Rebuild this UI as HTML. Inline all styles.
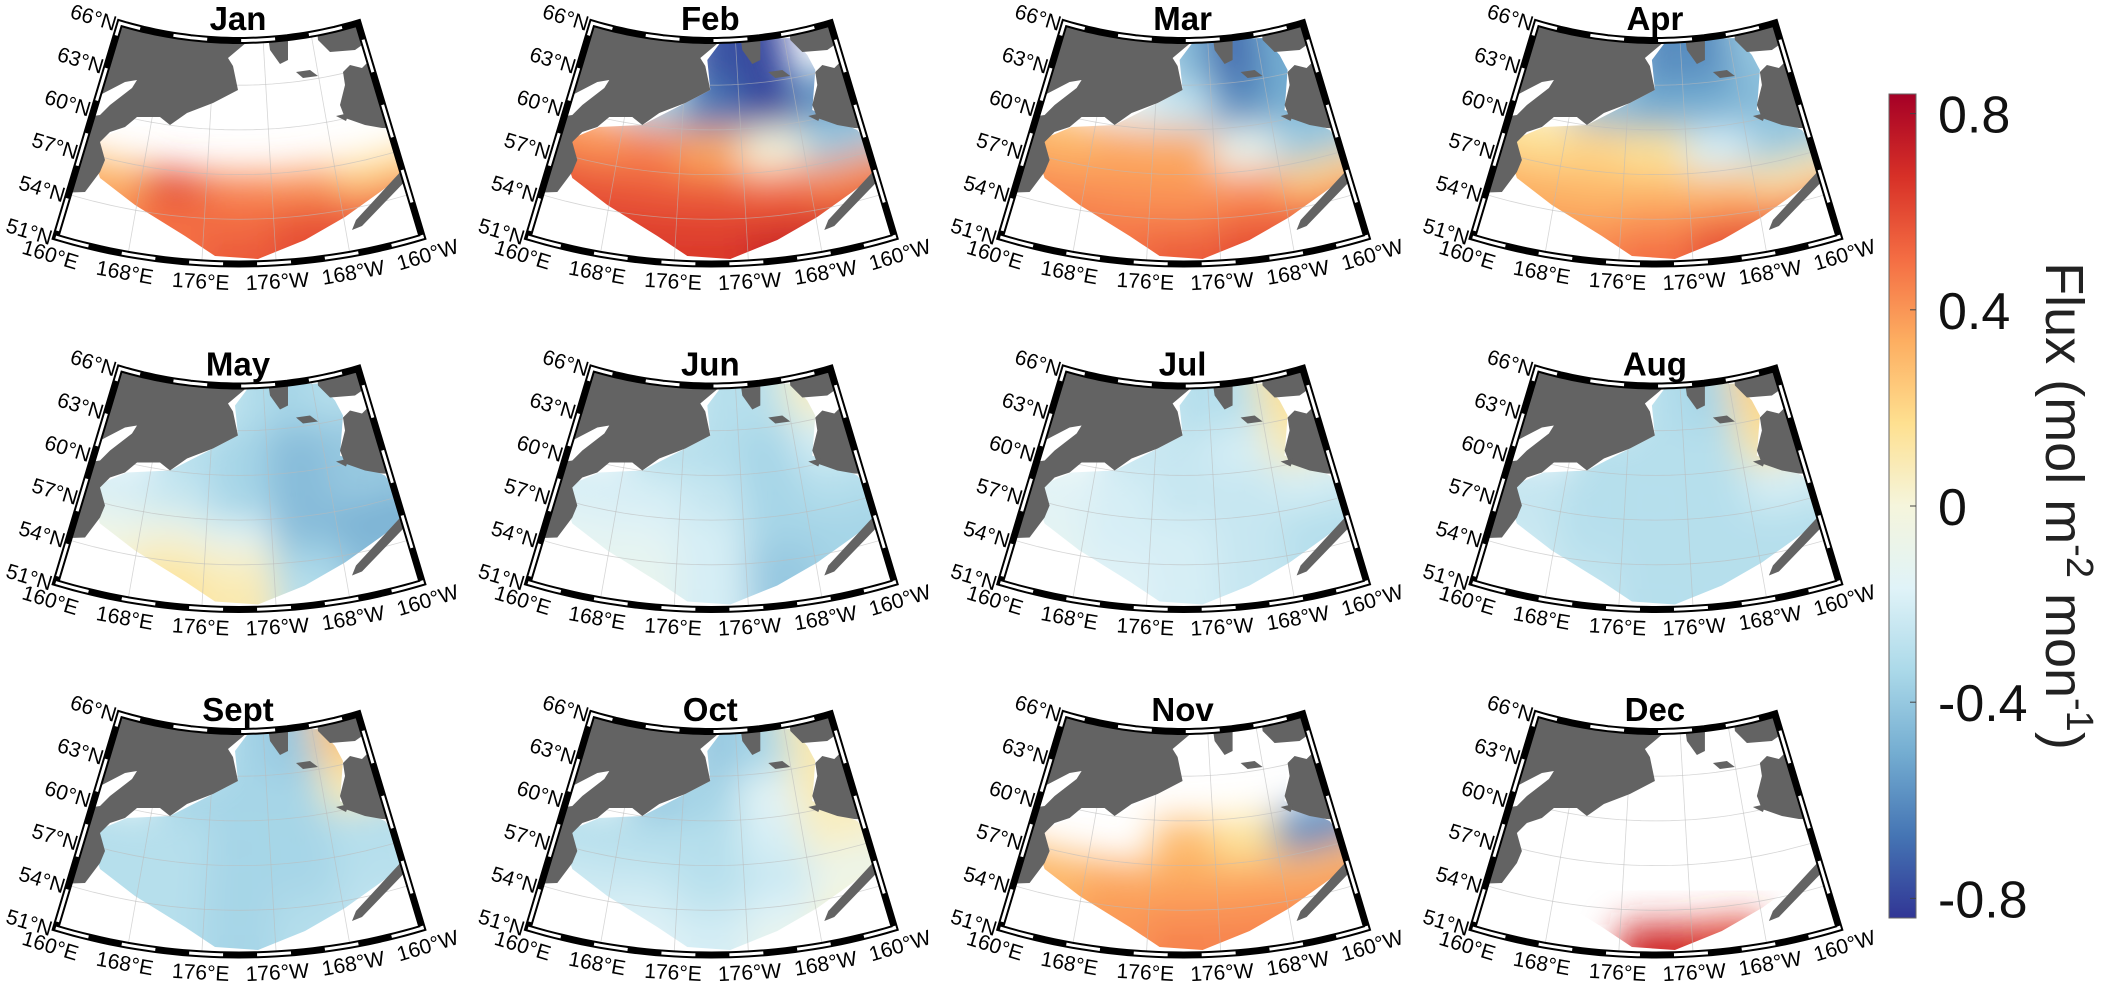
<!DOCTYPE html>
<html><head><meta charset="utf-8"><style>
html,body{margin:0;padding:0;background:#fff;}
svg{display:block;font-family:"Liberation Sans",sans-serif;}
</style></head><body>
<svg id="fig" width="2108" height="981" viewBox="0 0 2108 981">
<defs>
<linearGradient id="cbgrad" x1="0" y1="1" x2="0" y2="0">
<stop offset="0" stop-color="#313695"/><stop offset="0.1" stop-color="#4575b4"/><stop offset="0.2" stop-color="#74add1"/><stop offset="0.3" stop-color="#abd9e9"/><stop offset="0.4" stop-color="#e0f3f8"/><stop offset="0.5" stop-color="#f5f5dc"/><stop offset="0.6" stop-color="#fee090"/><stop offset="0.7" stop-color="#fdae61"/><stop offset="0.8" stop-color="#f46d43"/><stop offset="0.9" stop-color="#d73027"/><stop offset="1" stop-color="#a50026"/>
</linearGradient>
<filter id="blur" x="-30%" y="-30%" width="160%" height="160%"><feGaussianBlur stdDeviation="18"/></filter>
</defs>
<g id="panels"></g>
<g>
<rect x="1889" y="94" width="27" height="824" fill="url(#cbgrad)" stroke="#666" stroke-width="1"/>
<g id="cbticks"></g>
<text transform="translate(2046,506) rotate(90)" text-anchor="middle" font-size="54" fill="#222">Flux (mol m<tspan baseline-shift="super" font-size="38">-2</tspan> mon<tspan baseline-shift="super" font-size="38">-1</tspan>)</text>
</g>
</svg>
<script>
const NS='http://www.w3.org/2000/svg';
const months=['Jan','Feb','Mar','Apr','May','Jun','Jul','Aug','Sept','Oct','Nov','Dec'];
const lonEdges=[160,168,176,184,192,200];
const latEdges=[66,63,60,57,55,53,51];
const latTicks=[51,54,57,60,63,66];
const lonTicks=[160,168,176,184,192,200];
const lonTickLabels=['160°E','168°E','176°E','176°W','168°W','160°W'];
const cbTicks=[0.8,0.4,0,-0.4,-0.8];
const cbTickLabels=['0.8','0.4','0','-0.4','-0.8'];
const n=null;
// rows north->south: 63-66, 60-63, 57-60, 55-57, 53-55, 51-53 ; cols lon 160-168..192-200
const fluxJan=[[n,n,n,n,n],[n,n,n,n,n],[n,n,n,n,n],[0.3,0.6,0.45,0.4,0.2],[0.4,0.5,0.5,0.55,0.5],[0.45,0.5,0.55,0.6,0.6]];
const fluxFeb=[[n,n,-0.75,-0.8,n],[n,-0.35,-0.65,-0.8,-0.6],[0.4,0.45,0.35,0.0,-0.4],[0.55,0.55,0.55,0.5,0.4],[0.6,0.6,0.6,0.6,0.55],[0.6,0.65,0.65,0.72,0.75]];
const fluxMar=[[n,n,-0.45,-0.7,-0.5],[n,-0.15,-0.25,-0.6,-0.5],[0.3,0.35,0.35,-0.1,-0.4],[0.4,0.4,0.4,0.4,0.2],[0.45,0.45,0.45,0.5,0.45],[0.5,0.5,0.55,0.6,0.65]];
const fluxApr=[[n,n,-0.6,-0.6,-0.4],[n,-0.45,-0.5,-0.5,-0.45],[0.15,0.2,0.15,-0.2,-0.4],[0.3,0.3,0.3,0.25,0.1],[0.35,0.35,0.4,0.45,0.4],[0.4,0.45,0.5,0.6,0.65]];
const fluxMay=[[n,n,-0.3,-0.35,-0.3],[n,-0.3,-0.35,-0.45,-0.4],[-0.2,-0.25,-0.35,-0.45,-0.4],[-0.1,-0.05,-0.15,-0.45,-0.5],[0.0,0.1,0.05,-0.35,-0.45],[0.05,0.15,0.1,-0.3,-0.45]];
const fluxJun=[[n,n,-0.3,-0.3,0.05],[n,-0.3,-0.3,-0.35,-0.2],[-0.2,-0.2,-0.25,-0.35,-0.3],[-0.15,-0.15,-0.2,-0.35,-0.35],[-0.12,-0.12,-0.2,-0.4,-0.35],[-0.1,-0.1,-0.2,-0.4,-0.35]];
const fluxJul=[[n,n,-0.3,-0.3,0.15],[n,-0.25,-0.25,-0.2,0.1],[-0.15,-0.2,-0.25,-0.25,-0.2],[-0.15,-0.2,-0.2,-0.25,-0.3],[-0.12,-0.18,-0.2,-0.25,-0.3],[-0.1,-0.15,-0.2,-0.25,-0.3]];
const fluxAug=[[n,n,-0.3,-0.35,0.2],[n,-0.3,-0.3,-0.3,0.15],[-0.25,-0.3,-0.3,-0.3,-0.2],[-0.25,-0.3,-0.3,-0.3,-0.3],[-0.22,-0.28,-0.3,-0.3,-0.3],[-0.2,-0.25,-0.3,-0.3,-0.3]];
const fluxSep=[[n,n,-0.35,-0.4,0.25],[n,-0.35,-0.35,-0.35,0.1],[-0.3,-0.3,-0.35,-0.35,-0.3],[-0.3,-0.3,-0.35,-0.35,-0.3],[-0.3,-0.3,-0.35,-0.32,-0.28],[-0.3,-0.3,-0.35,-0.3,-0.25]];
const fluxOct=[[n,n,-0.4,-0.35,0.1],[n,-0.4,-0.35,-0.15,0.1],[-0.3,-0.3,-0.3,-0.2,0.05],[-0.25,-0.25,-0.3,-0.25,-0.1],[-0.22,-0.2,-0.25,-0.18,-0.02],[-0.2,-0.15,-0.2,-0.1,0.05]];
const fluxNov=[[n,n,n,n,n],[n,n,n,n,n],[n,n,0.3,0.15,-0.6],[0.3,0.35,0.35,0.35,0.3],[0.32,0.38,0.4,0.4,0.4],[0.35,0.4,0.45,0.45,0.45]];
const fluxDec=[[n,n,n,n,n],[n,n,n,n,n],[n,n,n,n,n],[n,n,n,n,n],[n,n,n,n,n],[n,n,0.7,0.65,n]];
const fluxAll=[fluxJan,fluxFeb,fluxMar,fluxApr,fluxMay,fluxJun,fluxJul,fluxAug,fluxSep,fluxOct,fluxNov,fluxDec];

const stops=['#313695','#4575b4','#74add1','#abd9e9','#e0f3f8','#f5f5dc','#fee090','#fdae61','#f46d43','#d73027','#a50026'];
function hex(h){return [1,3,5].map(i=>parseInt(h.substr(i,2),16));}
function cmap(v){let t=(v+0.84)/1.68;t=Math.max(0,Math.min(1,t));const p=t*10;const i=Math.min(9,Math.floor(p));const f=p-i;const a=hex(stops[i]),b=hex(stops[i+1]);return 'rgb('+a.map((c,k)=>Math.round(c+(b[k]-c)*f)).join(',')+')';}
const AX=239,AY=-374;
function rad(lat){return 638-(lat-51)*14.9;}
function ang(lon){return (lon-180)*0.835*Math.PI/180;}
function proj(lon,lat){const r=rad(lat),a=ang(lon);return [AX+r*Math.sin(a),AY+r*Math.cos(a)];}
function arcPts(lat,l0,l1,step){const p=[];for(let l=l0;(step>0?l<=l1+1e-9:l>=l1-1e-9);l+=step)p.push(proj(l,lat));return p;}
function pts(a){return a.map(p=>p[0].toFixed(1)+','+p[1].toFixed(1)).join(' ');}
function cellPath(lo0,lo1,la0,la1){return pts(arcPts(la0,lo0,lo1,1).concat(arcPts(la1,lo1,lo0,-1)));}
const framePts=arcPts(51,160,200,1).concat(arcPts(66,200,160,-1));
const dataRegion='96,140 127,127 170,125 213,103 238,90 235,60 250,40 320,38 335,55 343,70 340,110 385,130 400,150 412,168 380,192 345,217 305,240 258,259 215,256 185,236 135,205 100,178 94,160';
const russia='0,-30 255,-30 247,42 228,58 233,66 238,90 213,103 187,113 170,125 160,117 137,117 125,127 110,132 100,142 105,160 100,172 85,192 0,195';
const bay='80,105 100,95 125,82 137,80 132,88 110,105 100,115 80,118';
const alaskaA='312,-30 380,-30 372,38 355,50 330,52 318,40';
const alaskaB='343,72 350,65 362,68 372,58 460,58 460,130 382,128 365,125 345,118 340,105 345,85';
const pen='412,162 416,170 362,226 352,230 356,220 404,168';
const stl='296,72 310,70 318,76 303,78';
const chuk='268,36 288,36 288,60 280,64 270,50';
const nuni='336,116 349,113 346,121';

const panels=document.getElementById('panels');
months.forEach((m,i)=>{
  const c=i%4,r=Math.floor(i/4);
  const ox=c*472.3,oy=r*345.5;
  const g=document.createElementNS(NS,'g');
  g.setAttribute('transform','translate('+ox+','+oy+')');
  
  
  let h='<clipPath id="fc'+i+'"><polygon points="'+pts(framePts)+'"/></clipPath>';
  h+='<clipPath id="dc'+i+'"><polygon points="'+dataRegion+'"/></clipPath>';
  h+='<g clip-path="url(#fc'+i+')">';
  h+='<g clip-path="url(#dc'+i+')"><g filter="url(#blur)">';
  const F=fluxAll[i];
  for(let ri=0;ri<6;ri++)for(let ci=0;ci<5;ci++){const v=F[ri][ci];if(v===null)continue;
    h+='<polygon fill="'+cmap(v)+'" points="'+cellPath(lonEdges[ci]-(ci==0?4:0),lonEdges[ci+1]+(ci==4?4:0),latEdges[ri]+(ri==0?3:0),latEdges[ri+1]-(ri==5?3:0))+'"/>';}
  h+='</g></g>';
  [54,57,60,63].forEach(la=>{h+='<polyline fill="none" stroke="#bbb" stroke-opacity="0.6" stroke-width="0.8" points="'+pts(arcPts(la,160,200,1))+'"/>';});
  [168,176,184,192].forEach(lo=>{h+='<polyline fill="none" stroke="#bbb" stroke-opacity="0.6" stroke-width="0.8" points="'+pts([proj(lo,51),proj(lo,66)])+'"/>';});
  h+='<g fill="#636363"><polygon points="'+russia+'"/><polygon points="'+alaskaA+'"/><polygon points="'+alaskaB+'"/><polygon points="'+pen+'"/><polygon points="'+stl+'"/><polygon points="'+chuk+'"/><polygon points="'+nuni+'"/></g>';
  h+='<polygon fill="#fff" points="'+bay+'"/>';
  h+='</g>';
  h+='<polygon points="'+pts(framePts)+'" fill="none" stroke="#000" stroke-width="7"/>';
  h+='<polygon points="'+pts(framePts)+'" fill="none" stroke="#fff" stroke-width="3" stroke-dasharray="34 34"/>';
  latTicks.forEach(la=>{const p=proj(160,la);h+='<text font-size="21" text-anchor="end" transform="translate('+(p[0]-6).toFixed(1)+','+(p[1]+8).toFixed(1)+') rotate(16.7)">'+la+'°N</text>';});
  lonTicks.forEach((lo,k)=>{const a=ang(lo),rr=657;const x=AX+rr*Math.sin(a),y=AY+rr*Math.cos(a);h+='<text font-size="21" text-anchor="middle" dominant-baseline="central" transform="translate('+x.toFixed(1)+','+y.toFixed(1)+') rotate('+(-a*180/Math.PI).toFixed(1)+')">'+lonTickLabels[k]+'</text>';});
  h+='<text x="238" y="30" font-size="33" font-weight="bold" text-anchor="middle">'+m+'</text>';
  g.innerHTML=h;
  panels.appendChild(g);
});
const cbT=document.getElementById('cbticks');
const cbY=v=>506-v*(918-94)/1.68;
cbTicks.forEach((v,k)=>{
  const y=cbY(v);
  const l=document.createElementNS(NS,'line');
  l.setAttribute('x1',1910);l.setAttribute('x2',1916);l.setAttribute('y1',y);l.setAttribute('y2',y);l.setAttribute('stroke','#444');
  
  
  cbT.appendChild(l);
  const t=document.createElementNS(NS,'text');
  t.setAttribute('x',1938);t.setAttribute('y',y+19);t.setAttribute('font-size','52');t.setAttribute('fill','#111');
  t.textContent=cbTickLabels[k];
  
  
  cbT.appendChild(t);
});
</script>
</body></html>
